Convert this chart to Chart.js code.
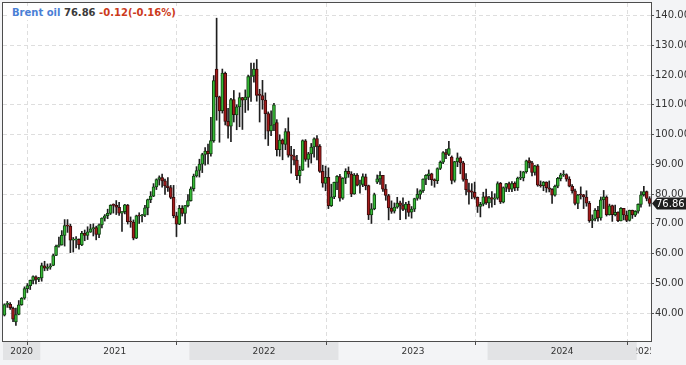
<!DOCTYPE html>
<html>
<head>
<meta charset="utf-8">
<title>Brent oil</title>
<script src="https://cdn.jsdelivr.net/npm/chart.js@4.4.1/dist/chart.umd.min.js"></script>
<style>
  html, body { margin: 0; padding: 0; background: #f3f4f6; }
  #box { position: relative; width: 686px; height: 365px; }
  #chart { position: absolute; left: 0; top: 0; }
  #head { position: absolute; left: 10px; top: 6px; padding: 0 2px; background: #fff;
          font: bold 10px "DejaVu Sans", sans-serif; line-height: 14px; white-space: nowrap; }
  #head .name { color: #4a7fd6; }
  #head .last { color: #3b3b3b; }
  #head .chg { color: #cc3b1c; }
</style>
</head>
<body>
<div id="box">
  <canvas id="chart" width="686" height="365"></canvas>
  <div id="head"><span class="name">Brent oil</span> <span class="last">76.86</span> <span class="chg">-0.12(-0.16%)</span></div>
</div>
<script>
// weekly candles, first week starts 2020-10-05
const open = [
  39.3, 42.9, 42.9, 41.6, 37.0, 39.5, 42.8, 45.0, 48.2, 49.2, 51.0, 52.2, 51.3,
  51.8, 55.9, 55.0, 55.4, 56.0, 59.4, 62.5, 62.9, 66.1, 69.4, 69.2, 64.5, 64.6, 64.8, 62.9, 66.8, 66.1, 67.2, 68.3, 68.7, 66.4, 69.6, 71.9, 72.7, 73.5, 76.2, 76.2, 75.5, 73.6, 74.1, 76.3, 70.7, 70.6, 65.2, 72.7, 72.6, 72.9, 75.3, 78.1, 79.3, 82.4, 84.9, 85.5, 84.4, 82.7, 82.2, 78.9, 72.7, 69.9, 75.2, 73.5, 76.1,
  77.8, 81.8, 86.1, 87.9, 90.0, 93.3, 94.4, 93.5, 97.9, 122.0, 112.7, 108.0, 120.6, 104.4, 102.8, 111.7, 106.6, 109.3, 112.4, 111.6, 112.5, 119.4, 119.7, 122.0, 113.6, 113.1, 111.6, 107.0, 101.2, 103.2, 104.0, 94.9, 98.2, 96.7, 101.0, 93.0, 92.8, 91.4, 86.2, 88.0, 97.9, 91.6, 93.5, 95.8, 98.6, 96.0, 87.6, 83.6, 85.6, 76.1, 79.0, 83.9,
  85.9, 78.6, 85.3, 87.6, 86.7, 80.0, 86.4, 83.0, 83.2, 85.8, 82.8, 73.0, 75.0, 84.0, 85.1, 86.3, 81.7, 79.5, 75.3, 74.2, 75.6, 77.0, 76.1, 74.8, 76.6, 73.9, 74.9, 78.5, 79.9, 81.1, 85.0, 86.2, 86.8, 84.8, 84.5, 88.6, 90.7, 93.9, 93.3, 92.4, 84.6, 90.9, 92.2, 90.5, 84.9, 81.4, 80.6, 80.6, 78.9, 75.8, 76.6, 79.1,
  77.0, 78.8, 78.3, 78.6, 83.6, 77.3, 82.2, 83.5, 81.6, 83.6, 82.1, 85.3, 85.4, 87.5, 91.2, 90.5, 87.3, 89.5, 83.0, 82.8, 84.0, 82.1, 81.6, 79.6, 82.6, 85.2, 86.4, 86.5, 85.0, 82.6, 81.1, 76.8, 79.7, 79.7, 79.0, 76.9, 71.1, 71.6, 74.5, 72.0, 78.1, 79.0, 73.1, 76.1, 73.1, 73.9, 71.0, 75.2, 72.9, 71.1, 74.5, 72.9,
  74.2, 76.5, 79.8, 80.8, 78.5
];
const high = [
  43.1, 43.9, 43.5, 42.0, 41.7, 44.2, 45.2, 48.8, 49.9, 51.1, 52.5, 52.5, 52.0,
  56.8, 57.4, 56.5, 56.6, 59.8, 62.8, 65.5, 67.7, 71.4, 71.4, 69.9, 65.4, 65.7, 64.9, 67.5, 67.9, 69.0, 69.8, 70.0, 69.2, 70.0, 72.0, 73.1, 74.9, 76.4, 76.7, 77.8, 77.2, 74.1, 76.5, 76.5, 72.3, 71.3, 72.9, 73.7, 73.2, 76.2, 78.3, 80.8, 83.5, 85.1, 86.1, 86.7, 85.0, 85.5, 82.9, 82.9, 73.9, 76.2, 76.1, 76.2, 79.8,
  82.4, 86.7, 89.2, 91.7, 93.7, 95.6, 96.8, 105.8, 119.8, 139.1, 112.9, 122.0, 121.0, 108.8, 112.2, 114.8, 110.0, 114.0, 112.5, 115.0, 120.0, 124.0, 124.0, 125.2, 115.2, 118.2, 114.0, 107.6, 108.0, 110.5, 105.0, 99.9, 98.5, 102.0, 105.6, 96.0, 95.0, 93.0, 89.4, 98.2, 98.3, 94.0, 97.0, 98.9, 99.6, 96.6, 89.7, 89.4, 88.8, 83.3, 84.0, 86.2,
  86.6, 85.5, 88.5, 89.1, 87.5, 86.9, 86.9, 84.7, 86.8, 86.7, 83.0, 76.8, 80.3, 86.4, 87.5, 86.3, 83.2, 79.9, 77.7, 77.0, 78.9, 77.6, 78.7, 77.2, 77.6, 75.8, 78.6, 81.8, 81.4, 85.1, 86.5, 88.1, 87.0, 85.1, 88.8, 91.1, 94.3, 95.0, 97.7, 92.8, 91.0, 93.8, 92.5, 91.0, 86.9, 83.7, 83.5, 84.0, 79.0, 77.2, 80.6, 81.7,
  79.2, 80.8, 80.1, 84.1, 83.9, 82.4, 83.6, 84.0, 84.2, 84.1, 85.7, 87.7, 87.6, 91.4, 92.2, 91.0, 89.6, 89.9, 84.4, 84.2, 84.1, 84.4, 81.8, 83.0, 85.6, 87.0, 87.9, 86.8, 85.8, 83.2, 81.7, 79.9, 82.4, 79.9, 81.1, 77.5, 73.0, 75.1, 75.9, 79.0, 81.2, 79.4, 76.6, 76.3, 76.3, 74.0, 75.4, 75.2, 74.3, 74.6, 74.6, 74.4,
  76.7, 80.8, 82.6, 81.0, 79.1
];
const low = [
  39.0, 41.9, 41.2, 37.1, 35.8, 39.4, 42.6, 44.6, 46.9, 47.9, 49.8, 49.8, 50.5,
  50.7, 54.2, 54.3, 54.7, 55.9, 59.3, 62.1, 62.8, 62.5, 67.1, 60.3, 60.5, 61.9, 61.5, 62.6, 64.3, 64.7, 67.1, 65.9, 64.6, 65.3, 68.6, 70.9, 71.7, 73.1, 73.6, 73.1, 72.8, 67.4, 73.3, 69.9, 68.8, 64.6, 65.0, 70.1, 70.6, 72.4, 73.0, 77.1, 79.1, 81.5, 83.0, 82.3, 79.9, 80.9, 78.4, 72.0, 65.7, 69.7, 72.6, 70.1, 75.7,
  77.6, 81.0, 85.7, 85.7, 87.2, 89.7, 90.1, 92.7, 97.4, 104.8, 97.4, 107.2, 103.2, 98.8, 97.6, 104.2, 101.6, 102.6, 101.7, 107.4, 108.2, 111.1, 117.6, 111.2, 104.2, 108.5, 98.5, 96.3, 99.6, 101.3, 92.8, 92.7, 91.5, 94.9, 92.4, 87.0, 89.8, 84.8, 83.7, 87.9, 91.0, 89.0, 90.4, 92.4, 91.5, 87.3, 82.3, 81.1, 75.1, 75.8, 78.4, 81.5,
  77.6, 78.2, 83.5, 85.6, 79.1, 79.9, 82.7, 80.3, 82.5, 81.4, 71.4, 70.1, 74.7, 83.5, 83.2, 80.9, 77.9, 71.3, 73.5, 73.6, 75.2, 71.4, 74.4, 71.6, 72.5, 71.9, 74.1, 77.9, 78.3, 80.5, 83.1, 84.8, 82.9, 82.3, 83.5, 88.2, 90.2, 91.9, 92.9, 83.4, 84.0, 89.2, 86.8, 84.3, 79.7, 76.6, 78.4, 78.3, 73.8, 72.3, 76.0, 76.5,
  75.3, 75.6, 76.4, 78.2, 76.8, 77.0, 80.8, 80.8, 80.8, 81.1, 81.2, 84.8, 84.4, 87.0, 88.8, 86.1, 86.3, 82.6, 82.3, 81.1, 80.6, 80.7, 76.8, 79.3, 82.1, 84.4, 85.9, 84.3, 82.4, 80.3, 76.3, 75.1, 78.3, 75.1, 75.9, 70.5, 68.7, 71.0, 70.9, 71.2, 75.1, 72.6, 72.9, 70.8, 72.6, 70.7, 71.0, 71.3, 70.7, 70.9, 71.8, 72.4,
  73.6, 75.6, 79.3, 77.7, 75.9
];
const close = [
  42.85, 42.93, 41.77, 37.94, 39.45, 42.78, 44.96, 48.18, 49.25, 50.97, 52.26, 51.29, 51.80,
  55.99, 55.10, 55.41, 55.88, 59.34, 62.43, 62.91, 66.13, 69.36, 69.22, 64.53, 64.57, 64.86, 62.95, 66.77, 66.11, 67.25, 68.28, 68.71, 66.44, 69.63, 71.89, 72.69, 73.51, 76.18, 76.17, 75.55, 73.59, 74.10, 76.33, 70.70, 70.59, 65.18, 72.70, 72.61, 72.92, 75.34, 78.09, 79.28, 82.39, 84.86, 85.53, 84.38, 82.74, 82.17, 78.89, 72.72, 69.88, 75.15, 73.52, 76.14, 77.78,
  81.75, 86.06, 87.89, 90.03, 93.27, 94.44, 93.54, 97.93, 118.11, 112.67, 107.93, 120.65, 104.39, 102.78, 111.70, 106.65, 109.34, 112.39, 111.55, 112.55, 119.43, 119.72, 122.01, 113.12, 113.12, 111.63, 107.02, 101.16, 103.20, 110.01, 94.92, 98.15, 96.72, 100.99, 93.02, 92.84, 91.35, 86.15, 87.96, 97.92, 91.63, 93.50, 95.77, 98.57, 95.99, 87.62, 83.63, 85.57, 76.10, 79.04, 83.92, 85.91,
  78.57, 85.28, 87.63, 86.66, 79.94, 86.39, 83.00, 83.16, 85.83, 82.78, 72.97, 74.99, 79.77, 85.12, 86.31, 81.66, 79.54, 75.30, 74.17, 75.58, 76.95, 76.13, 74.79, 76.61, 73.85, 74.90, 78.47, 79.87, 81.07, 84.99, 86.24, 86.81, 84.80, 84.48, 88.55, 90.65, 93.93, 93.27, 95.31, 84.58, 90.89, 92.16, 90.48, 84.89, 81.43, 80.61, 80.58, 78.88, 75.84, 76.55, 79.07, 77.04,
  78.76, 78.29, 78.56, 83.55, 77.33, 82.19, 83.47, 81.62, 83.55, 82.08, 85.34, 85.43, 87.48, 91.17, 90.45, 87.29, 89.50, 82.96, 82.79, 83.98, 82.12, 81.62, 79.62, 82.62, 85.24, 86.41, 86.54, 85.03, 82.63, 81.13, 76.81, 79.66, 79.68, 79.02, 76.93, 71.06, 71.61, 74.49, 71.98, 78.05, 79.04, 73.06, 76.05, 73.10, 73.87, 71.04, 75.17, 72.94, 71.12, 74.49, 72.94, 74.17,
  76.51, 79.76, 80.79, 78.50, 76.86
];

const yTicks = [40, 50, 60, 70, 80, 90, 100, 110, 120, 130, 140];
const yearNames = ['2020', '2021', '2022', '2023', '2024', '2025'];
const yearStartWeek = [13, 65, 117, 169, 221];
const gridWeek = [8, 60, 112, 164, 217];

const weeks = close.map((_, i) => new Date(Date.UTC(2020, 9, 5 + 7 * i)).toISOString().slice(0, 10));

const up = '#36b936', down = '#a31b1b';

const frame = {
  id: 'frame',
  beforeDraw(chart) {
    const { ctx, chartArea: a, width, height } = chart;
    ctx.save();
    ctx.fillStyle = '#f3f4f6';
    ctx.fillRect(0, 0, width, height);
    ctx.fillStyle = '#fff';
    ctx.fillRect(a.left, a.top, a.right - a.left, a.bottom - a.top);
    ctx.restore();
  },
  beforeDatasetsDraw(chart) {
    const { ctx, chartArea: a, scales: { x } } = chart;
    ctx.save();
    ctx.strokeStyle = '#dedede';
    ctx.lineWidth = 1;
    ctx.setLineDash([4, 3]);
    gridWeek.forEach(i => {
      const px = Math.round(x.getPixelForValue(i)) + 0.5;
      ctx.beginPath();
      ctx.moveTo(px, a.top);
      ctx.lineTo(px, a.bottom);
      ctx.stroke();
    });
    ctx.restore();
  },
  afterDraw(chart) {
    const { ctx, chartArea: a, scales: { x, y } } = chart;
    ctx.save();

    // year cells under the plot
    const edge = i => (x.getPixelForValue(i - 1) + x.getPixelForValue(i)) / 2;
    const bounds = [a.left, ...yearStartWeek.map(edge), a.right];
    ctx.font = '9px "DejaVu Sans"';
    ctx.textAlign = 'center';
    ctx.textBaseline = 'middle';
    yearNames.forEach((name, k) => {
      const l = bounds[k], r = bounds[k + 1];
      if (k % 2 === 0) {
        ctx.fillStyle = '#e2e3e5';
        ctx.fillRect(l, a.bottom + 1, r - l, 18);
      }
      ctx.save();
      ctx.beginPath();
      ctx.rect(l, a.bottom + 1, r - l, 22);
      ctx.clip();
      ctx.fillStyle = '#333';
      ctx.fillText(name, (l + r) / 2, a.bottom + 10.5);
      ctx.restore();
    });

    // plot frame + small ticks under it
    ctx.strokeStyle = '#4d4d4d';
    ctx.lineWidth = 1;
    ctx.strokeRect(a.left - 0.5, a.top - 0.5, a.right - a.left + 1, a.bottom - a.top + 1);
    gridWeek.forEach(i => {
      const px = Math.round(x.getPixelForValue(i)) + 0.5;
      ctx.beginPath();
      ctx.moveTo(px, a.bottom);
      ctx.lineTo(px, a.bottom + 4);
      ctx.stroke();
    });

    // last price tag
    const last = close[close.length - 1];
    const py = Math.round(y.getPixelForValue(last));
    ctx.fillStyle = '#1f1f1f';
    ctx.beginPath();
    ctx.moveTo(a.right + 1, py + 0.5);
    ctx.lineTo(a.right + 6, py - 5.5);
    ctx.lineTo(chart.width, py - 5.5);
    ctx.lineTo(chart.width, py + 6.5);
    ctx.lineTo(a.right + 6, py + 6.5);
    ctx.closePath();
    ctx.fill();
    ctx.fillStyle = '#fff';
    ctx.font = '10px "DejaVu Sans"';
    ctx.textAlign = 'left';
    ctx.fillText(last.toFixed(2), a.right + 5, py + 1);
    ctx.restore();
  }
};

new Chart(document.getElementById('chart'), {
  type: 'bar',
  data: {
    labels: weeks,
    datasets: [
      {
        label: 'range',
        data: low.map((l, i) => [l, high[i]]),
        backgroundColor: '#1e1e1e',
        barThickness: 1,
        grouped: false,
        order: 2
      },
      {
        label: 'body',
        data: open.map((o, i) => [o, close[i]]),
        backgroundColor: open.map((o, i) => close[i] >= o ? up : down),
        borderColor: open.map((o, i) => close[i] >= o ? '#124412' : '#3a0b0b'),
        borderWidth: 1,
        borderSkipped: false,
        barThickness: 3,
        minBarLength: 1,
        grouped: false,
        order: 1
      }
    ]
  },
  options: {
    responsive: false,
    animation: false,
    events: [],
    devicePixelRatio: 1,
    layout: { padding: { left: 3, top: 3, right: 0, bottom: 24 } },
    plugins: { legend: { display: false }, tooltip: { enabled: false } },
    scales: {
      x: { display: false, offset: true },
      y: {
        position: 'right',
        min: 30.6,
        max: 144.2,
        afterBuildTicks: s => { s.ticks = yTicks.map(v => ({ value: v })); },
        afterFit: s => { s.width = 35; s.paddingTop = 0; s.paddingBottom = 0; },
        grid: { color: '#dedede', tickColor: '#555', tickLength: 3, tickBorderDash: [] },
        border: { display: false, dash: [4, 3] },
        ticks: {
          color: '#333',
          padding: 1,
          font: { family: 'DejaVu Sans', size: 10 },
          callback: v => v.toFixed(2)
        }
      }
    }
  },
  plugins: [frame]
});
</script>
</body>
</html>
